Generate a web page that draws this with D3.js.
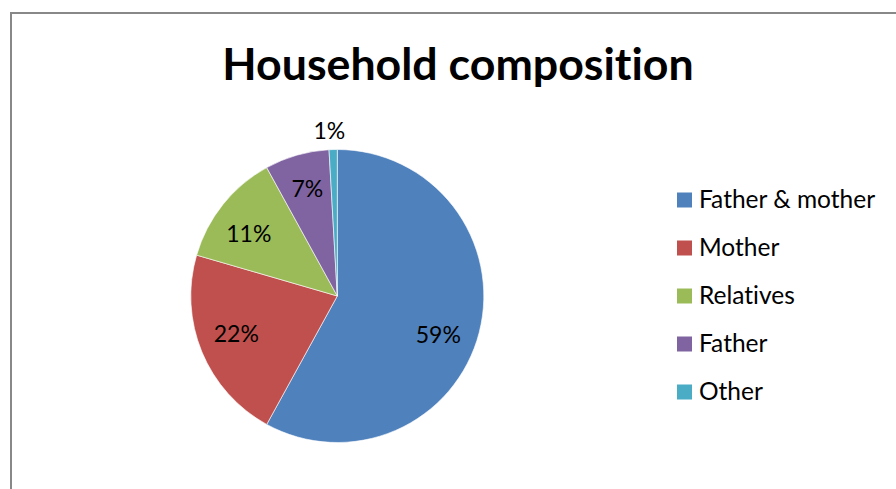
<!DOCTYPE html>
<html>
<head>
<meta charset="utf-8">
<script src="https://cdn.jsdelivr.net/npm/d3@7"></script>
<style>
  html, body { margin: 0; padding: 0; background: #fff; }
  svg { display: block; }
  text { font-family: Lato, "Open Sans", sans-serif; fill: #000; font-variant-ligatures: none; font-feature-settings: "liga" 0, "dlig" 0; }
</style>
</head>
<body>
<svg id="chart" width="896" height="489"></svg>
<script>
// ---- data ----
const title = "Household composition";
const categories = ["Father & mother", "Mother", "Relatives", "Father", "Other"];
const shares = [58.0, 21.5, 12.5, 7.1, 0.9];
const shareLabels = ["59%", "22%", "11%", "7%", "1%"];
const colors = ["#4F81BD", "#C0504D", "#9BBB59", "#8064A2", "#4BACC6"];

// ---- layout ----
const W = 896, H = 489;
const cx = 337.3, cy = 296, R = 146.5;
const svg = d3.select("#chart");

svg.append("rect")
  .attr("x", 11).attr("y", 13)
  .attr("width", 920).attr("height", 520)
  .attr("fill", "#fff").attr("stroke", "#888").attr("stroke-width", 2);

svg.append("text")
  .attr("x", 458).attr("y", 80)
  .attr("text-anchor", "middle")
  .attr("font-size", 44.7).attr("font-weight", 700)
  .text(title);

const data = categories.map((c, i) => ({ name: c, value: shares[i], label: shareLabels[i], color: colors[i] }));

const pie = d3.pie().sort(null).value(d => d.value);
const arcs = pie(data);
const arc = d3.arc().innerRadius(0).outerRadius(R);

const g = svg.append("g").attr("transform", `translate(${cx},${cy})`);
g.selectAll("path.slice").data(arcs).enter().append("path")
  .attr("class", "slice")
  .attr("d", arc)
  .attr("fill", d => d.data.color)
  .attr("stroke", "#fff").attr("stroke-width", 0.6);

// label radius factors (tiny slice label sits outside)
const labelRadius = d => (d.endAngle - d.startAngle) < 0.1 ? R * 1.135 : R * 0.74;
const labelAngleShift = [0.12, 0.02, -0.06, 0, -0.02];
const labelDy = [-1, -2, 0, -4, 0];
g.selectAll("text.pct").data(arcs).enter().append("text")
  .attr("class", "pct")
  .attr("text-anchor", "middle")
  .attr("dominant-baseline", "central")
  .attr("font-size", 23)
  .attr("x", (d, i) => labelRadius(d) * Math.sin((d.startAngle + d.endAngle) / 2 + labelAngleShift[i]))
  .attr("y", (d, i) => -labelRadius(d) * Math.cos((d.startAngle + d.endAngle) / 2 + labelAngleShift[i]) + labelDy[i])
  .text(d => d.data.label);

// legend
const legendY = d3.scalePoint().domain(categories).range([200, 392]);
const lg = svg.append("g");
const items = lg.selectAll("g").data(data).enter().append("g")
  .attr("transform", d => `translate(677,${legendY(d.name)})`);
items.append("rect")
  .attr("x", 0).attr("y", -7.5).attr("width", 15).attr("height", 15)
  .attr("fill", d => d.color);
items.append("text")
  .attr("x", 22).attr("y", -2)
  .attr("dominant-baseline", "central")
  .attr("font-size", 24.5)
  .text(d => d.name);
</script>
</body>
</html>
